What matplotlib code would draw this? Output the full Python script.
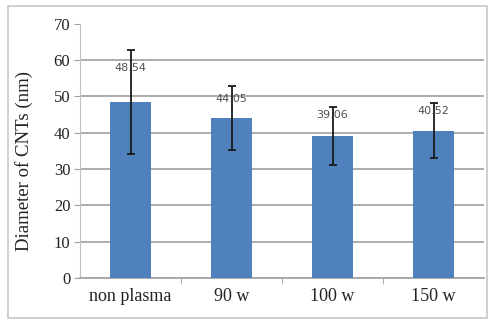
import matplotlib
matplotlib.use("Agg")
from matplotlib import pyplot as plt
from matplotlib.patches import Rectangle
import numpy as np

categories = ["non plasma", "90 w", "100 w", "150 w"]
diameters = [48.54, 44.05, 39.06, 40.52]
errors = [14.3, 8.9, 7.9, 7.6]
value_labels = ["48.54", "44.05", "39.06", "40.52"]

plt.rcParams['font.family'] = ['Liberation Serif', 'DejaVu Serif']

fig = plt.figure(figsize=(4.94, 3.24), dpi=100)
ax = fig.add_axes([80/494, 1-278/324, 404/494, (278-23.7)/324])

# outer chart frame
fig.patches.append(Rectangle((8/494, 1-318/324), 479/494, 312/324,
                             transform=fig.transFigure, fill=False,
                             edgecolor='#c8c8c8', linewidth=1.2))

x = np.arange(len(categories))
ax.bar(x, diameters, 0.4, color='#4f81bd', zorder=3)
ax.errorbar(x, diameters, yerr=errors, fmt='none', ecolor='#1a1a1a',
            elinewidth=1.3, capsize=3, capthick=1.3, zorder=4)

offsets = [24, 14, 15, 14]
for xi, v, lab, off in zip(x, diameters, value_labels, offsets):
    ax.annotate(lab, (xi, v), xytext=(0, off), textcoords='offset points',
                ha='center', va='center', fontsize=8, color='#505050',
                family='DejaVu Sans', zorder=5)

ax.set_xlim(-0.5, 3.5)
ax.set_ylim(0, 70)
ax.set_yticks(range(0, 71, 10))
ax.set_xticks(x)
ax.set_xticklabels(categories)
ax.set_xticks(np.arange(0.5, 3.5, 1), minor=True)
ax.tick_params(axis='x', which='major', length=0, pad=7, labelsize=13, labelcolor='#222222')
ax.tick_params(axis='x', which='minor', length=4, color='#a0a0a0')
ax.tick_params(axis='y', length=4, color='#a0a0a0', labelsize=12, labelcolor='#222222', pad=3)

ax.yaxis.grid(True, color='#a6a6a6', linewidth=1.3, zorder=0)
ax.get_ygridlines()[-1].set_visible(False)
ax.set_axisbelow(True)

for s in ['top', 'right']:
    ax.spines[s].set_visible(False)
ax.spines['left'].set_color('#c0c0c0')
ax.spines['bottom'].set_color('#a6a6a6')
ax.spines['bottom'].set_linewidth(1.3)

ax.set_ylabel('Diameter of CNTs (nm)', fontsize=13.5, color='#222222')
ax.yaxis.set_label_coords(-0.116, 0.46)

fig.savefig('out.png', dpi=100)
